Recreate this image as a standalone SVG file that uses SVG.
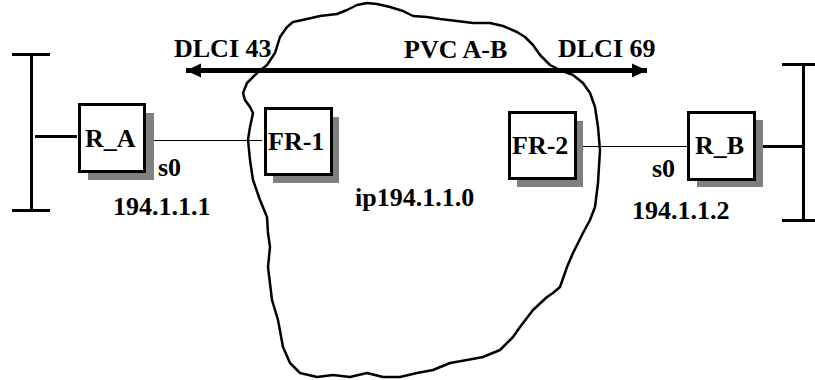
<svg xmlns="http://www.w3.org/2000/svg" width="815" height="380" viewBox="0 0 815 380">
<style>
text{font-family:"Liberation Serif","Times New Roman",serif;font-weight:bold;font-size:26px;fill:#000}
.box{fill:#fff;stroke:#000;stroke-width:3}
.sh{fill:#808080}
.thick{stroke:#000;stroke-width:3;fill:none}
.thin{stroke:#000;stroke-width:1;fill:none}
</style>
<defs>
<marker id="ah" markerUnits="userSpaceOnUse" markerWidth="16" markerHeight="16" viewBox="0 0 16 16" refX="15" refY="8" orient="auto-start-reverse">
<path d="M0,1 L15,8 L0,15 Z" fill="#000"/>
</marker>
</defs>
<rect width="815" height="380" fill="#fff"/>
<g id="cloud">
<path fill="none" stroke="#000" stroke-width="2.5" stroke-linejoin="round" d="M275,53 L280,37 L287,27 L293,22 L307,19 L320,16 L337,14 L347,10 L357,5 L367,3 L377,4 L390,7 L403,11 L413,16 L427,17 L440,19 L457,21 L473,23 L490,23 L503,26 L517,32 L525,37 L533,45 L540,55 L550,65 L560,70 L573,75 L583,83 L590,93 L595,107 L598,127 L600,150 L598,183 L595,207 L590,220 L583,233 L573,253 L567,267 L560,287 L553,293 L547,297 L533,310 L520,327 L513,337 L500,350 L483,357 L467,360 L450,363 L433,370 L417,373 L400,377 L383,377 L367,373 L350,377 L333,375 L317,377 L300,373 L290,363 L283,347 L278,320 L272,300 L268,267 L270,247 L268,233 L267,217 L260,200 L253,180 L250,160 L248,140 L250,127 L253,113 L250,107 L245,100 L243,93 L247,83 L257,73 L267,65 Z"/>
</g>
<g id="connectors">
<line x1="186" y1="70.5" x2="647" y2="70.5" stroke="#000" stroke-width="5" marker-start="url(#ah)" marker-end="url(#ah)"/>
<line class="thin" x1="154" y1="140.5" x2="262" y2="140.5"/>
<line class="thin" x1="583" y1="146.5" x2="688" y2="146.5"/>
<line class="thick" x1="35" y1="136.5" x2="77" y2="136.5"/>
<line class="thick" x1="757" y1="146.5" x2="803" y2="146.5"/>
</g>
<g id="busA">
<line class="thick" x1="31.5" y1="54" x2="31.5" y2="210"/>
<line class="thick" x1="12" y1="54.5" x2="50" y2="54.5"/>
<line class="thick" x1="12" y1="210.5" x2="50" y2="210.5"/>
</g>
<g id="busB">
<line class="thick" x1="803.5" y1="64" x2="803.5" y2="220"/>
<line class="thick" x1="782" y1="64.5" x2="822" y2="64.5"/>
<line class="thick" x1="782" y1="220.5" x2="822" y2="220.5"/>
</g>
<g id="RA">
<rect class="sh" x="88" y="113" width="66" height="67"/>
<rect class="box" x="79.5" y="104.5" width="65" height="67"/>
<text x="85" y="147">R_A</text>
</g>
<g id="FR1">
<rect class="sh" x="273" y="117" width="66" height="66"/>
<rect class="box" x="265.5" y="108.5" width="66" height="66"/>
<text x="268" y="150">FR-1</text>
</g>
<g id="FR2">
<rect class="sh" x="517" y="121" width="66" height="66"/>
<rect class="box" x="509.5" y="112.5" width="66" height="66"/>
<text x="512" y="154">FR-2</text>
</g>
<g id="RB">
<rect class="sh" x="697" y="120" width="66" height="67"/>
<rect class="box" x="688.5" y="112.5" width="66" height="67"/>
<text x="695" y="154">R_B</text>
</g>
<g id="labels">
<text x="174" y="57">DLCI 43</text>
<text x="404" y="58">PVC A-B</text>
<text x="558" y="57">DLCI 69</text>
<text x="158" y="176">s0</text>
<text x="652" y="177">s0</text>
<text x="113" y="215">194.1.1.1</text>
<text x="632" y="219">194.1.1.2</text>
<text x="355" y="206">ip194.1.1.0</text>
</g>
</svg>
